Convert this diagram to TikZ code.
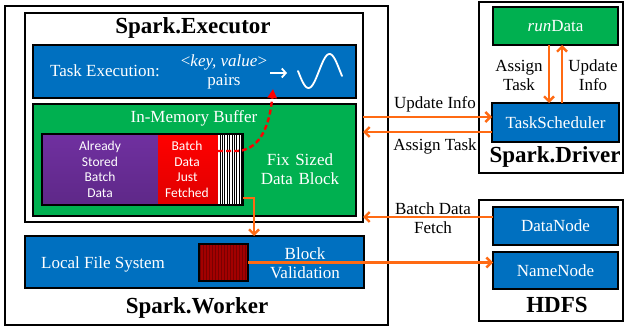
\documentclass[tikz,border=0pt]{standalone}
\usepackage{fontspec}
\setmainfont{Liberation Serif}
\newfontfamily\calibfam{Carlito}
\usetikzlibrary{arrows.meta}
\definecolor{mblue}{HTML}{0070C0}
\definecolor{mgreen}{HTML}{00B050}
\definecolor{mpurple}{HTML}{7030A0}
\definecolor{mpurpled}{HTML}{5E2888}
\definecolor{mred}{HTML}{FF0000}
\definecolor{mredd}{HTML}{E00000}
\definecolor{dred}{HTML}{A30000}
\definecolor{dredd}{HTML}{7A0000}
\definecolor{morange}{HTML}{FF6A13}
\newcommand\labfont{\fontsize{17}{19}\selectfont}
\newcommand\titfont{\fontsize{23}{26}\selectfont\bfseries}
\newcommand\smsans{\calibfam\fontsize{13.5}{15.7}\selectfont}
\begin{document}
\begin{tikzpicture}[x=1pt,y=-1pt,
  frame/.style={draw=black,line width=1.8,inner sep=0,outer sep=0},
  box/.style={draw=black,line width=2.6,inner sep=0,outer sep=0,text=white,font=\labfont,align=center},
  lbl/.style={inner sep=0,font=\labfont,align=center},
  wlbl/.style={lbl,text=white},
  ttl/.style={inner sep=0,font=\titfont},
  oarr/.style={draw=morange,line width=2.4,-{Straight Barb[length=5,width=10]}},
]
\useasboundingbox (0,0) rectangle (625,332);
% frames
\node[frame,minimum width=383,minimum height=319] (wk) at (196.5,165.5) {};
\node[frame,minimum width=338,minimum height=209] (ex) at (194,117.5) {};
\node[frame,minimum width=144,minimum height=171] (dr) at (551,87.5) {};
\node[frame,minimum width=144,minimum height=121] (hd) at (551,260.5) {};
\node[ttl] (tex) at (193,28) {Spark.Executor};
\node[ttl] (twk) at (197,308) {Spark.Worker};
\node[ttl] (tdr) at (555,157) {Spark.Driver};
\node[ttl] (thd) at (557,305) {HDFS};
% task execution
\node[box,fill=mblue,minimum width=323,minimum height=53] (te) at (194.5,71.5) {};
\node[wlbl] (tel) at (105,71) {Task Execution:};
\node[wlbl] (kv) at (224,72) {<\textit{key, value}>\\pairs};
\coordinate (wa1) at (270,73);
\coordinate (wa2) at (287,73);
\draw[white,line width=1.8,-{Straight Barb[length=4,width=9]}] (wa1) -- (wa2);
\draw[white,line width=1.8,line cap=round,domain=298:342,samples=50,variable=\t]
  plot (\t,{71+17*sin(360*(\t-298)/42)});
% buffer
\node[box,fill=mgreen,minimum width=323,minimum height=112] (bf) at (194.5,160) {};
\node[wlbl] (bfl) at (194,118) {In-Memory Buffer};
\node[wlbl,text width=100] (fsd) at (300,169.5) {\baselineskip=21pt Fix Sized\\Data Block};
\path[top color=mpurple,bottom color=mpurpled] (42,134) rectangle (158,205);
\path[top color=mred,bottom color=mredd] (158,134) rectangle (218,205);
\fill[white] (218,134) rectangle (243,205);
\foreach \i in {0,...,9} \draw[black,line width=0.6] (219.8+2.4*\i,134) -- (219.8+2.4*\i,205);
\node[draw=black,line width=2.6,inner sep=0,outer sep=0,minimum width=201,minimum height=71] (blk) at (142.5,169.5) {};
\node[inner sep=0,align=center,text=white,font=\smsans] (ast) at (100,169.5) {Already\\Stored\\Batch\\Data};
\node[inner sep=0,align=center,text=white,font=\smsans] (bdj) at (187,169.5) {Batch\\Data\\Just\\Fetched};
% red dashed
\coordinate (rd1) at (218,151);
\coordinate (rd2) at (273,89);
\draw[mred,line width=2.4,dash pattern=on 5pt off 3pt,-{Triangle[length=9,width=9]}]
  (rd1) -- (238,151) .. controls (262,149) and (270,122) .. (rd2);
% local file system
\node[box,fill=mblue,minimum width=339,minimum height=52] (lfs) at (194.5,262) {};
\node[wlbl] (lfsl) at (103,264) {Local File System};
\node[wlbl] (bv) at (305,263) {\baselineskip=20pt Block\\Validation};
\fill[dred] (199,244) rectangle (248,281);
\foreach \i in {0,...,15} \draw[dredd,line width=0.4] (200.5+3*\i,244) -- (200.5+3*\i,281);
\node[draw=black,line width=2.6,inner sep=0,outer sep=0,minimum width=49,minimum height=37] (sq) at (223.5,262.5) {};
% driver
\node[box,fill=mgreen,minimum width=125,minimum height=38] (rdn) at (555.5,26) {\textit{run}Data};
\node[box,fill=mblue,minimum width=127,minimum height=39] (ts) at (555.5,122.5) {TaskScheduler};
\draw[oarr] ([xshift=-6.5pt]rdn.south) -- ([xshift=-6.5pt]ts.north);
\draw[oarr] ([xshift=6.5pt]ts.north) -- ([xshift=6.5pt]rdn.south);
\node[lbl] (lat) at (519,75) {\baselineskip=20pt Assign\\Task};
\node[lbl] (lui) at (593,75) {\baselineskip=20pt Update\\Info};
% hdfs
\node[box,fill=mblue,minimum width=125,minimum height=38] (dn) at (555.5,226) {DataNode};
\node[box,fill=mblue,minimum width=125,minimum height=37] (nn) at (555.5,270.5) {NameNode};
% connectors
\coordinate (ui) at ([yshift=5.5pt]ts.west);
\coordinate (at) at ([yshift=-9.5pt]ts.west);
\coordinate (bd) at ([yshift=9pt]dn.west);
\draw[oarr] (ex.east |- ui) -- (ui);
\draw[oarr] (at) -- (ex.east |- at);
\draw[oarr] (bd) -- (ex.east |- bd);
\draw[oarr] (sq.east) -- (nn.west |- sq.east);
\coordinate (fs) at (243,198);
\coordinate (vx) at (254,0);
\draw[oarr] (fs) -| (vx |- lfs.north);
\node[lbl] (lu) at (435,104) {Update Info};
\node[lbl] (la) at (435,146) {Assign Task};
\node[lbl] (lb) at (433,218) {\baselineskip=20pt Batch Data\\Fetch};
\end{tikzpicture}
\end{document}
